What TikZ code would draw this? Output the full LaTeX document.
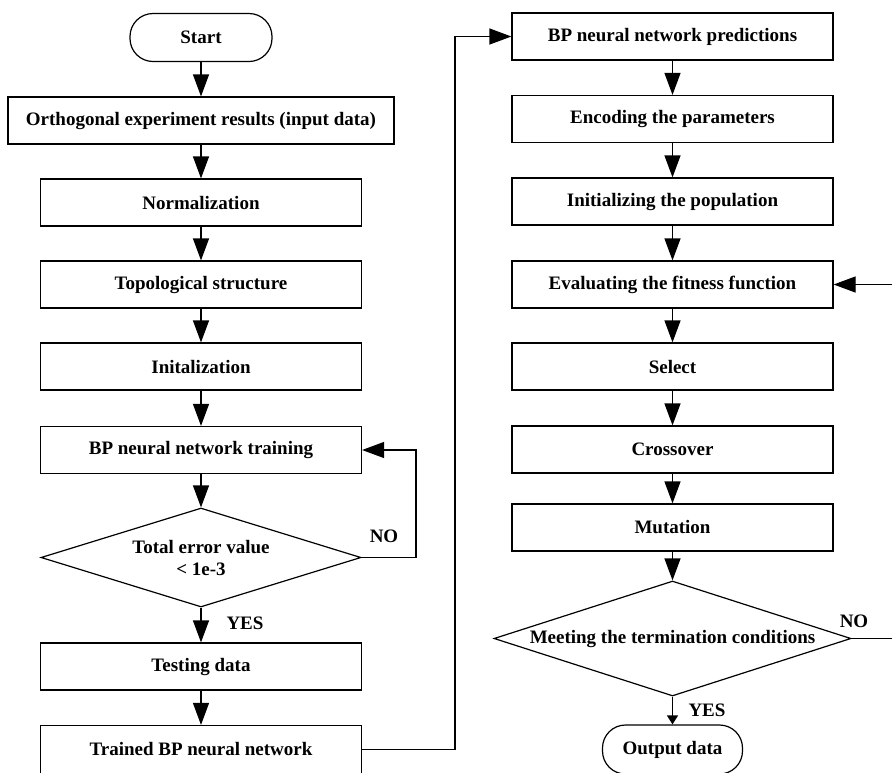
\documentclass[tikz,border=0pt]{standalone}
\usepackage{fontspec}
\setmainfont{Liberation Serif}
\usetikzlibrary{arrows.meta,shapes.geometric}
\begin{document}
\begin{tikzpicture}[x=1pt,y=-1pt,
  every node/.style={font=\fontsize{19}{23}\selectfont\bfseries},
  stepbox/.style={draw,line width=1.2pt,minimum width=321pt,minimum height=47pt,inner sep=0pt},
  termbox/.style={draw,line width=1.2pt,rounded corners=23pt,minimum height=48pt,inner sep=0pt},
  decbox/.style={draw,line width=1.2pt,diamond,inner sep=0pt},
  lbl/.style={inner sep=0pt},
  conn/.style={line width=1.2pt,-{Triangle[length=22pt,width=16pt]}},
  shortconn/.style={line width=1.2pt,-{Triangle[length=9pt,width=11pt]}}]
\clip (0,0) rectangle (892,772);
% left column
\node[termbox,minimum width=142pt] (start) at (201,37.5) {Start};
\node[stepbox,minimum width=386pt] (ortho) at (201,120.5) {Orthogonal experiment results (input data)};
\node[stepbox] (norm) at (201,202.5) {Normalization};
\node[stepbox] (topo) at (201,284.5) {Topological structure};
\node[stepbox] (init) at (201,366.5) {Initalization};
\node[stepbox] (train) at (201,450) {BP neural network training};
\node[decbox,minimum width=320pt,minimum height=99pt] (d1) at (201,557.5) {};
\node[lbl,align=center] (d1t) at (d1) {Total error value\\[-1pt]\textless{} 1e-3};
\node[stepbox] (test) at (201,666.5) {Testing data};
\node[stepbox,minimum height=48pt] (trained) at (201,749.5) {Trained BP neural network};
% right column
\node[stepbox] (pred) at (672.5,36.5) {BP neural network predictions};
\node[stepbox] (enc) at (672.5,119) {Encoding the parameters};
\node[stepbox] (popu) at (672.5,201.5) {Initializing the population};
\node[stepbox] (eval) at (672.5,284.5) {Evaluating the fitness function};
\node[stepbox] (sel) at (672.5,366.5) {Select};
\node[stepbox] (cross) at (672.5,449.5) {Crossover};
\node[stepbox] (mut) at (672.5,527.5) {Mutation};
\node[decbox,minimum width=357pt,minimum height=115pt] (d2) at (672.5,638.5) {};
\node[lbl] (d2t) at (d2) {Meeting the termination conditions};
\node[termbox,minimum width=140pt,minimum height=49pt] (out) at (672.5,749.5) {Output data};
% labels
\node[lbl] (no1) at (384,536) {NO};
\node[lbl] (yes1) at (245,623) {YES};
\node[lbl] (no2) at (854,621) {NO};
\node[lbl] (yes2) at (707,710) {YES};
% coordinates
\coordinate (c1a) at (416,557.5);
\coordinate (c1b) at (416,450);
\coordinate (c2a) at (455,749.5);
\coordinate (c2b) at (455,36.5);
\coordinate (c3a) at (905,638.5);
\coordinate (c3b) at (905,284.5);
% connectors
\draw[conn] (start) -- (ortho);
\draw[conn] (ortho) -- (norm);
\draw[conn] (norm) -- (topo);
\draw[conn] (topo) -- (init);
\draw[conn] (init) -- (train);
\draw[conn] (train) -- (d1);
\draw[conn] (d1) -- (test);
\draw[conn] (test) -- (trained);
\draw[conn] (d1.east) -- (c1a) -- (c1b) -- (train.east);
\draw[conn] (trained.east) -- (c2a) -- (c2b) -- (pred.west);
\draw[conn] (pred) -- (enc);
\draw[conn] (enc) -- (popu);
\draw[conn] (popu) -- (eval);
\draw[conn] (eval) -- (sel);
\draw[conn] (sel) -- (cross);
\draw[conn] (cross) -- (mut);
\draw[conn] (mut) -- (d2);
\draw[shortconn] (d2) -- (out);
\draw[conn] (d2.east) -- (c3a) -- (c3b) -- (eval.east);
\end{tikzpicture}
\end{document}
